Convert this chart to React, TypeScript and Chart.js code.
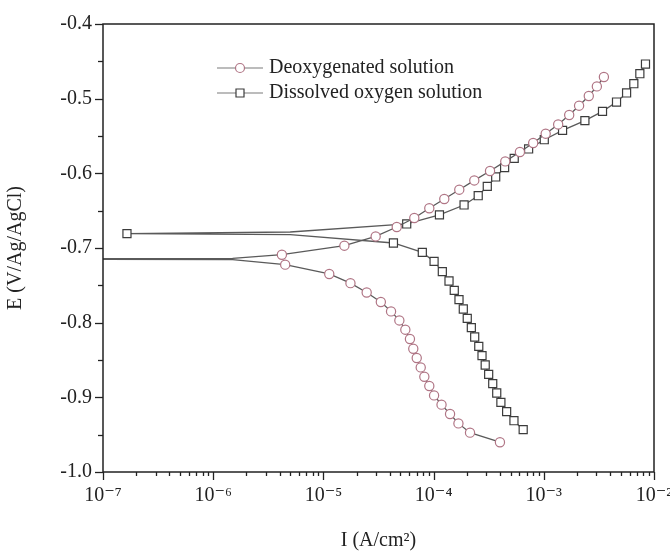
import React, { useEffect, useRef } from 'react';
import { Chart, registerables } from 'chart.js';

Chart.register(...registerables);

// Deoxygenated solution (circles)
const deoxCathodicI = [4.5e-6, 1.13e-5, 1.76e-5, 2.47e-5, 3.32e-5, 4.11e-5, 4.89e-5, 5.54e-5, 6.1e-5, 6.54e-5, 7.03e-5, 7.64e-5, 8.24e-5, 9.14e-5, 1.01e-4, 1.18e-4, 1.41e-4, 1.68e-4, 2.14e-4, 4.0e-4];
const deoxCathodicE = [-0.7223, -0.7348, -0.7471, -0.7596, -0.7723, -0.7849, -0.797, -0.8094, -0.8219, -0.8349, -0.8473, -0.8599, -0.8724, -0.8848, -0.8974, -0.9098, -0.9223, -0.9349, -0.9473, -0.9601];
const deoxAnodicI = [4.2e-6, 1.55e-5, 2.98e-5, 4.63e-5, 6.68e-5, 9.14e-5, 1.25e-4, 1.71e-4, 2.34e-4, 3.25e-4, 4.47e-4, 6.07e-4, 8.01e-4, 1.04e-3, 1.35e-3, 1.70e-3, 2.09e-3, 2.56e-3, 3.03e-3, 3.51e-3];
const deoxAnodicE = [-0.709, -0.6969, -0.6845, -0.6719, -0.6598, -0.6467, -0.6344, -0.6219, -0.6095, -0.5969, -0.584, -0.5714, -0.5594, -0.5469, -0.5345, -0.5219, -0.5094, -0.4964, -0.4836, -0.471];
// unmarked line path joining the two branches (lower path, off-axis corrosion point, upper path)
const deoxJoinI = [1.5e-6, 1e-8, 1.5e-6];
const deoxJoinE = [-0.7155, -0.7147, -0.714];

// Dissolved oxygen solution (squares)
const dissCathodicI = [4.32e-5, 7.9e-5, 1.01e-4, 1.2e-4, 1.38e-4, 1.54e-4, 1.70e-4, 1.86e-4, 2.02e-4, 2.2e-4, 2.36e-4, 2.57e-4, 2.75e-4, 2.94e-4, 3.16e-4, 3.44e-4, 3.74e-4, 4.08e-4, 4.6e-4, 5.36e-4, 6.5e-4];
const dissCathodicE = [-0.6933, -0.7059, -0.7179, -0.7317, -0.7442, -0.7568, -0.7692, -0.7817, -0.7943, -0.8067, -0.8192, -0.8318, -0.8442, -0.8567, -0.8693, -0.8817, -0.8942, -0.9068, -0.9192, -0.9313, -0.9433];
const dissAnodicI = [5.7e-5, 1.13e-4, 1.89e-4, 2.54e-4, 3.07e-4, 3.66e-4, 4.41e-4, 5.39e-4, 7.28e-4, 1.01e-3, 1.48e-3, 2.36e-3, 3.41e-3, 4.57e-3, 5.64e-3, 6.56e-3, 7.44e-3, 8.37e-3];
const dissAnodicE = [-0.6678, -0.6557, -0.6424, -0.63, -0.6175, -0.6049, -0.5924, -0.58, -0.5674, -0.555, -0.5425, -0.5295, -0.517, -0.5045, -0.4924, -0.48, -0.4666, -0.4536];
const dissEcorrI = [1.65e-7];
const dissEcorrE = [-0.6808];
// unmarked line path points next to the corrosion point (lower, upper)
const dissPathI = [5e-6, 5e-6];
const dissPathE = [-0.6822, -0.6786];

const seriesLabels = ['Deoxygenated solution', 'Dissolved oxygen solution'];
const xTickExponents = [-7, -6, -5, -4, -3, -2];
const yMin = -1.0;
const yMax = -0.4;

const FONT = "'Liberation Serif', 'DejaVu Serif', serif";
const SUP: Record<string, string> = { '-': '\u207B', '0': '\u2070', '1': '\u00B9', '2': '\u00B2', '3': '\u00B3', '4': '\u2074', '5': '\u2075', '6': '\u2076', '7': '\u2077', '8': '\u2078', '9': '\u2079' };
const sup = (s: string) => s.split('').map((c) => SUP[c] || c).join('');

type P = { x: number; y: number; m: boolean };
const pts = (xs: number[], ys: number[], m: boolean): P[] => xs.map((x, i) => ({ x, y: ys[i], m }));

const deoxData: P[] = [
  ...pts(deoxCathodicI, deoxCathodicE, true).reverse(),
  ...pts(deoxJoinI, deoxJoinE, false),
  ...pts(deoxAnodicI, deoxAnodicE, true),
];
const dissData: P[] = [
  ...pts(dissCathodicI, dissCathodicE, true).reverse(),
  ...pts([dissPathI[0]], [dissPathE[0]], false),
  ...pts(dissEcorrI, dissEcorrE, true),
  ...pts([dissPathI[1]], [dissPathE[1]], false),
  ...pts(dissAnodicI, dissAnodicE, true),
];

const LINE = '#5a5a5a';
const CIRCLE = '#b07585';
const SQUARE = '#3c3c3c';
const AXIS = '#222';

const isDecade = (v: number) => {
  const e = Math.log10(v);
  return Math.abs(e - Math.round(e)) < 1e-9;
};
const isTenth = (v: number) => Math.abs(Math.round(v * 10) - v * 10) < 1e-6;

const framePlugin = {
  id: 'frameTicksLegend',
  afterDraw(chart: any) {
    const { ctx, chartArea: a, scales } = chart;
    ctx.save();
    ctx.strokeStyle = AXIS;
    ctx.lineWidth = 1.5;
    ctx.strokeRect(a.left, a.top, a.right - a.left, a.bottom - a.top);
    ctx.lineWidth = 1.3;
    scales.x.ticks.forEach((t: any) => {
      const px = Math.round(scales.x.getPixelForValue(t.value)) + 0.5;
      const len = isDecade(t.value) ? 8 : 4;
      ctx.beginPath();
      ctx.moveTo(px, a.bottom);
      ctx.lineTo(px, a.bottom + len);
      ctx.stroke();
    });
    scales.y.ticks.forEach((t: any) => {
      const py = Math.round(scales.y.getPixelForValue(t.value)) + 0.5;
      const len = isTenth(t.value) ? 8 : 5;
      ctx.beginPath();
      ctx.moveTo(a.left, py);
      ctx.lineTo(a.left - len, py);
      ctx.stroke();
    });

    // legend
    const lx0 = a.left + 114;
    const lx1 = lx0 + 46;
    const tx = lx1 + 6;
    const rows = [a.top + 44, a.top + 69];
    chart.data.datasets.forEach((ds: any, i: number) => {
      const y = rows[i];
      ctx.strokeStyle = '#7a7a7a';
      ctx.lineWidth = 1.2;
      ctx.beginPath();
      ctx.moveTo(lx0, y);
      ctx.lineTo(lx1, y);
      ctx.stroke();
      ctx.fillStyle = '#fff';
      ctx.strokeStyle = ds.pointBorderColor;
      ctx.lineWidth = 1.2;
      const cx = (lx0 + lx1) / 2;
      ctx.beginPath();
      if (ds.pointStyle === 'rect') {
        ctx.rect(cx - 4, y - 4, 8, 8);
      } else {
        ctx.arc(cx, y, 4.5, 0, Math.PI * 2);
      }
      ctx.fill();
      ctx.stroke();
      ctx.fillStyle = '#222';
      ctx.font = `20px ${FONT}`;
      ctx.textBaseline = 'middle';
      ctx.textAlign = 'left';
      ctx.fillText(ds.label, tx, y);
    });
    ctx.restore();
  },
};

export default function App() {
  const ref = useRef<HTMLCanvasElement | null>(null);
  useEffect(() => {
    document.body.style.margin = '0';
    if (!ref.current) return;
    const chart = new Chart(ref.current, {
      type: 'scatter',
      data: {
        datasets: [
          {
            label: seriesLabels[0],
            data: deoxData,
            showLine: true,
            borderColor: LINE,
            borderWidth: 1.3,
            tension: 0,
            pointStyle: 'circle',
            pointRadius: deoxData.map((p) => (p.m ? 4.6 : 0)),
            pointHoverRadius: deoxData.map((p) => (p.m ? 4.6 : 0)),
            pointBorderColor: CIRCLE,
            pointBackgroundColor: '#ffffff',
            pointBorderWidth: 1.2,
          },
          {
            label: seriesLabels[1],
            data: dissData,
            showLine: true,
            borderColor: LINE,
            borderWidth: 1.3,
            tension: 0,
            pointStyle: 'rect',
            pointRadius: dissData.map((p) => (p.m ? 5.7 : 0)),
            pointHoverRadius: dissData.map((p) => (p.m ? 5.7 : 0)),
            pointBorderColor: SQUARE,
            pointBackgroundColor: '#ffffff',
            pointBorderWidth: 1.2,
          },
        ],
      },
      options: {
        animation: false,
        responsive: false,
        devicePixelRatio: 1,
        layout: { autoPadding: false, padding: { left: 0, right: 16, top: 24, bottom: 0 } },
        plugins: { legend: { display: false }, tooltip: { enabled: false } },
        scales: {
          x: {
            type: 'logarithmic',
            min: Math.pow(10, xTickExponents[0]),
            max: Math.pow(10, xTickExponents[xTickExponents.length - 1]),
            grid: { display: false, drawTicks: false },
            border: { display: false },
            afterBuildTicks: (scale: any) => {
              const ticks: { value: number }[] = [];
              xTickExponents.forEach((e, i) => {
                const last = i === xTickExponents.length - 1;
                for (let m = 1; m <= (last ? 1 : 9); m++) ticks.push({ value: m * Math.pow(10, e) });
              });
              scale.ticks = ticks;
            },
            afterFit: (scale: any) => {
              scale.height = 83;
              scale.paddingRight = 0;
              scale.paddingLeft = 0;
            },
            ticks: {
              autoSkip: false,
              maxRotation: 0,
              padding: 12,
              color: '#222',
              font: { family: FONT, size: 20 },
              callback: (v: any) => (isDecade(Number(v)) ? '10' + sup(String(Math.round(Math.log10(Number(v))))) : ''),
            },
            title: {
              display: true,
              text: 'I (A/cm\u00B2)',
              color: '#222',
              font: { family: FONT, size: 20 },
              padding: { top: 4, bottom: 2 },
            },
          },
          y: {
            type: 'linear',
            min: yMin,
            max: yMax,
            grid: { display: false, drawTicks: false },
            border: { display: false },
            afterFit: (scale: any) => {
              scale.width = 103;
              scale.paddingTop = 0;
              scale.paddingBottom = 0;
            },
            ticks: {
              stepSize: 0.05,
              autoSkip: false,
              padding: 11,
              color: '#222',
              font: { family: FONT, size: 20 },
              callback: (v: any) => (isTenth(Number(v)) ? Number(v).toFixed(1) : ''),
            },
            title: {
              display: true,
              text: 'E (V/Ag/AgCl)',
              color: '#222',
              font: { family: FONT, size: 20 },
              padding: { top: 4, bottom: 4 },
            },
          },
        },
      },
      plugins: [framePlugin],
    });
    return () => chart.destroy();
  }, []);
  return (
    <div style={{ position: 'fixed', left: 0, top: 0, width: 670, height: 555 }}>
      <canvas ref={ref} width={670} height={555} style={{ width: 670, height: 555, display: 'block' }} />
    </div>
  );
}
